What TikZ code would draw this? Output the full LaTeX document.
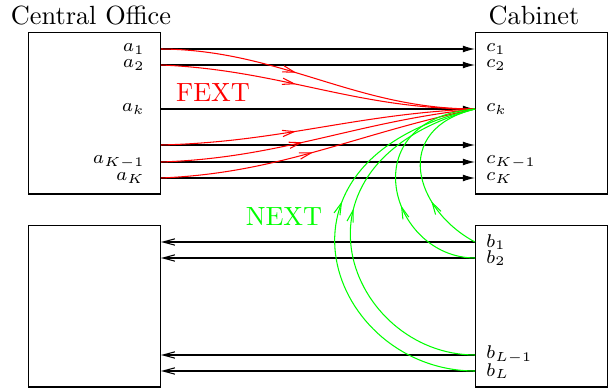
\documentclass[tikz,border=0pt]{standalone}
\usepackage{tikz}
\usetikzlibrary{positioning,arrows.meta,decorations.markings}

\begin{document}
\begin{tikzpicture}[
  x=0.38pt,y=-0.38pt,
  box/.style={draw,minimum width=50.5pt,minimum height=61.2pt,inner sep=0pt},
  lbl/.style={font=\scriptsize,inner sep=0pt},
  sig/.style={-{Latex[length=4.6pt,width=2.6pt]}},
  sigback/.style={-{Straight Barb[length=4.5pt,width=2.4pt]}},
  xtalk/.style={decoration={markings,mark=at position #1 with {\arrow{Straight Barb[length=4.5pt,width=2.4pt]}}},postaction={decorate}},
  fextline/.style={red,xtalk=#1},
  nextline/.style={green,xtalk=#1}
]
\useasboundingbox (0,0) rectangle (611,388);
\node[box] (office) at (94.5,113.5) {};
\node[box] (cabinet) at (541.5,113.5) {};
\node[box] (officelow) at (94.5,306.5) {};
\node[box] (cabinetlow) at (541.5,306.5) {};
\node (officetitle) at (91,16) {Central Office};
\node (cabinettitle) at (534,16) {Cabinet};
% downstream pairs
\coordinate (a1) at (161,49);  \coordinate (c1) at (475,49);
\coordinate (a2) at (161,65);  \coordinate (c2) at (475,65);
\coordinate (ak) at (161,109); \coordinate (ck) at (475,109);
\coordinate (am) at (161,145); \coordinate (cm) at (475,145);
\coordinate (aK1) at (161,162); \coordinate (cK1) at (475,162);
\coordinate (aK) at (161,178); \coordinate (cK) at (475,178);
% upstream pairs
\coordinate (b1) at (475,242);  \coordinate (e1) at (161,242);
\coordinate (b2) at (475,258);  \coordinate (e2) at (161,258);
\coordinate (bL1) at (475,355); \coordinate (eL1) at (161,355);
\coordinate (bL) at (475,371);  \coordinate (eL) at (161,371);
\node[lbl,left=6pt of a1] (la1) {$a_1$};
\node[lbl,left=6pt of a2] (la2) {$a_2$};
\node[lbl,left=6pt of ak] (lak) {$a_k$};
\node[lbl,left=6pt of aK1] (laK1) {$a_{K-1}$};
\node[lbl,left=6pt of aK] (laK) {$a_K$};
\node[lbl,right=4pt of c1] (lc1) {$c_1$};
\node[lbl,right=4pt of c2] (lc2) {$c_2$};
\node[lbl,right=4pt of ck] (lck) {$c_k$};
\node[lbl,right=4pt of cK1] (lcK1) {$c_{K-1}$};
\node[lbl,right=4pt of cK] (lcK) {$c_K$};
\node[lbl,right=4pt of b1] (lb1) {$b_1$};
\node[lbl,right=4pt of b2] (lb2) {$b_2$};
\node[lbl,right=4pt of bL1] (lbL1) {$b_{L-1}$};
\node[lbl,right=4pt of bL] (lbL) {$b_L$};
\draw[sig] (a1) -- (c1);
\draw[sig] (a2) -- (c2);
\draw[sig] (ak) -- (ck);
\draw[sig] (am) -- (cm);
\draw[sig] (aK1) -- (cK1);
\draw[sig] (aK) -- (cK);
\draw[sigback] (b1) -- (e1);
\draw[sigback] (b2) -- (e2);
\draw[sigback] (bL1) -- (eL1);
\draw[sigback] (bL) -- (eL);
% far-end crosstalk
\draw[fextline=0.43] (a1) .. controls (281,50) and (355,109) .. (ck);
\draw[fextline=0.43] (a2) .. controls (281,70) and (355,109) .. (ck);
\draw[fextline=0.43] (am) .. controls (281,142) and (355,114) .. (ck);
\draw[fextline=0.45] (aK1) .. controls (281,158) and (355,122) .. (ck);
\draw[fextline=0.48] (aK) .. controls (281,173) and (355,134) .. (ck);
% near-end crosstalk
\draw[nextline=0.33] (b1) .. controls (415,210) and (390,130) .. (ck);
\draw[nextline=0.4] (b2) .. controls (390,258) and (350,120) .. (ck);
\draw[nextline=0.57] (bL1) .. controls (350,355) and (272,165) .. (ck);
\draw[nextline=0.6] (bL) .. controls (330,371) and (250,160) .. (ck);
\node[red] (fext) at (213,93) {FEXT};
\node[green] (next) at (284,217) {NEXT};
\end{tikzpicture}
\end{document}
